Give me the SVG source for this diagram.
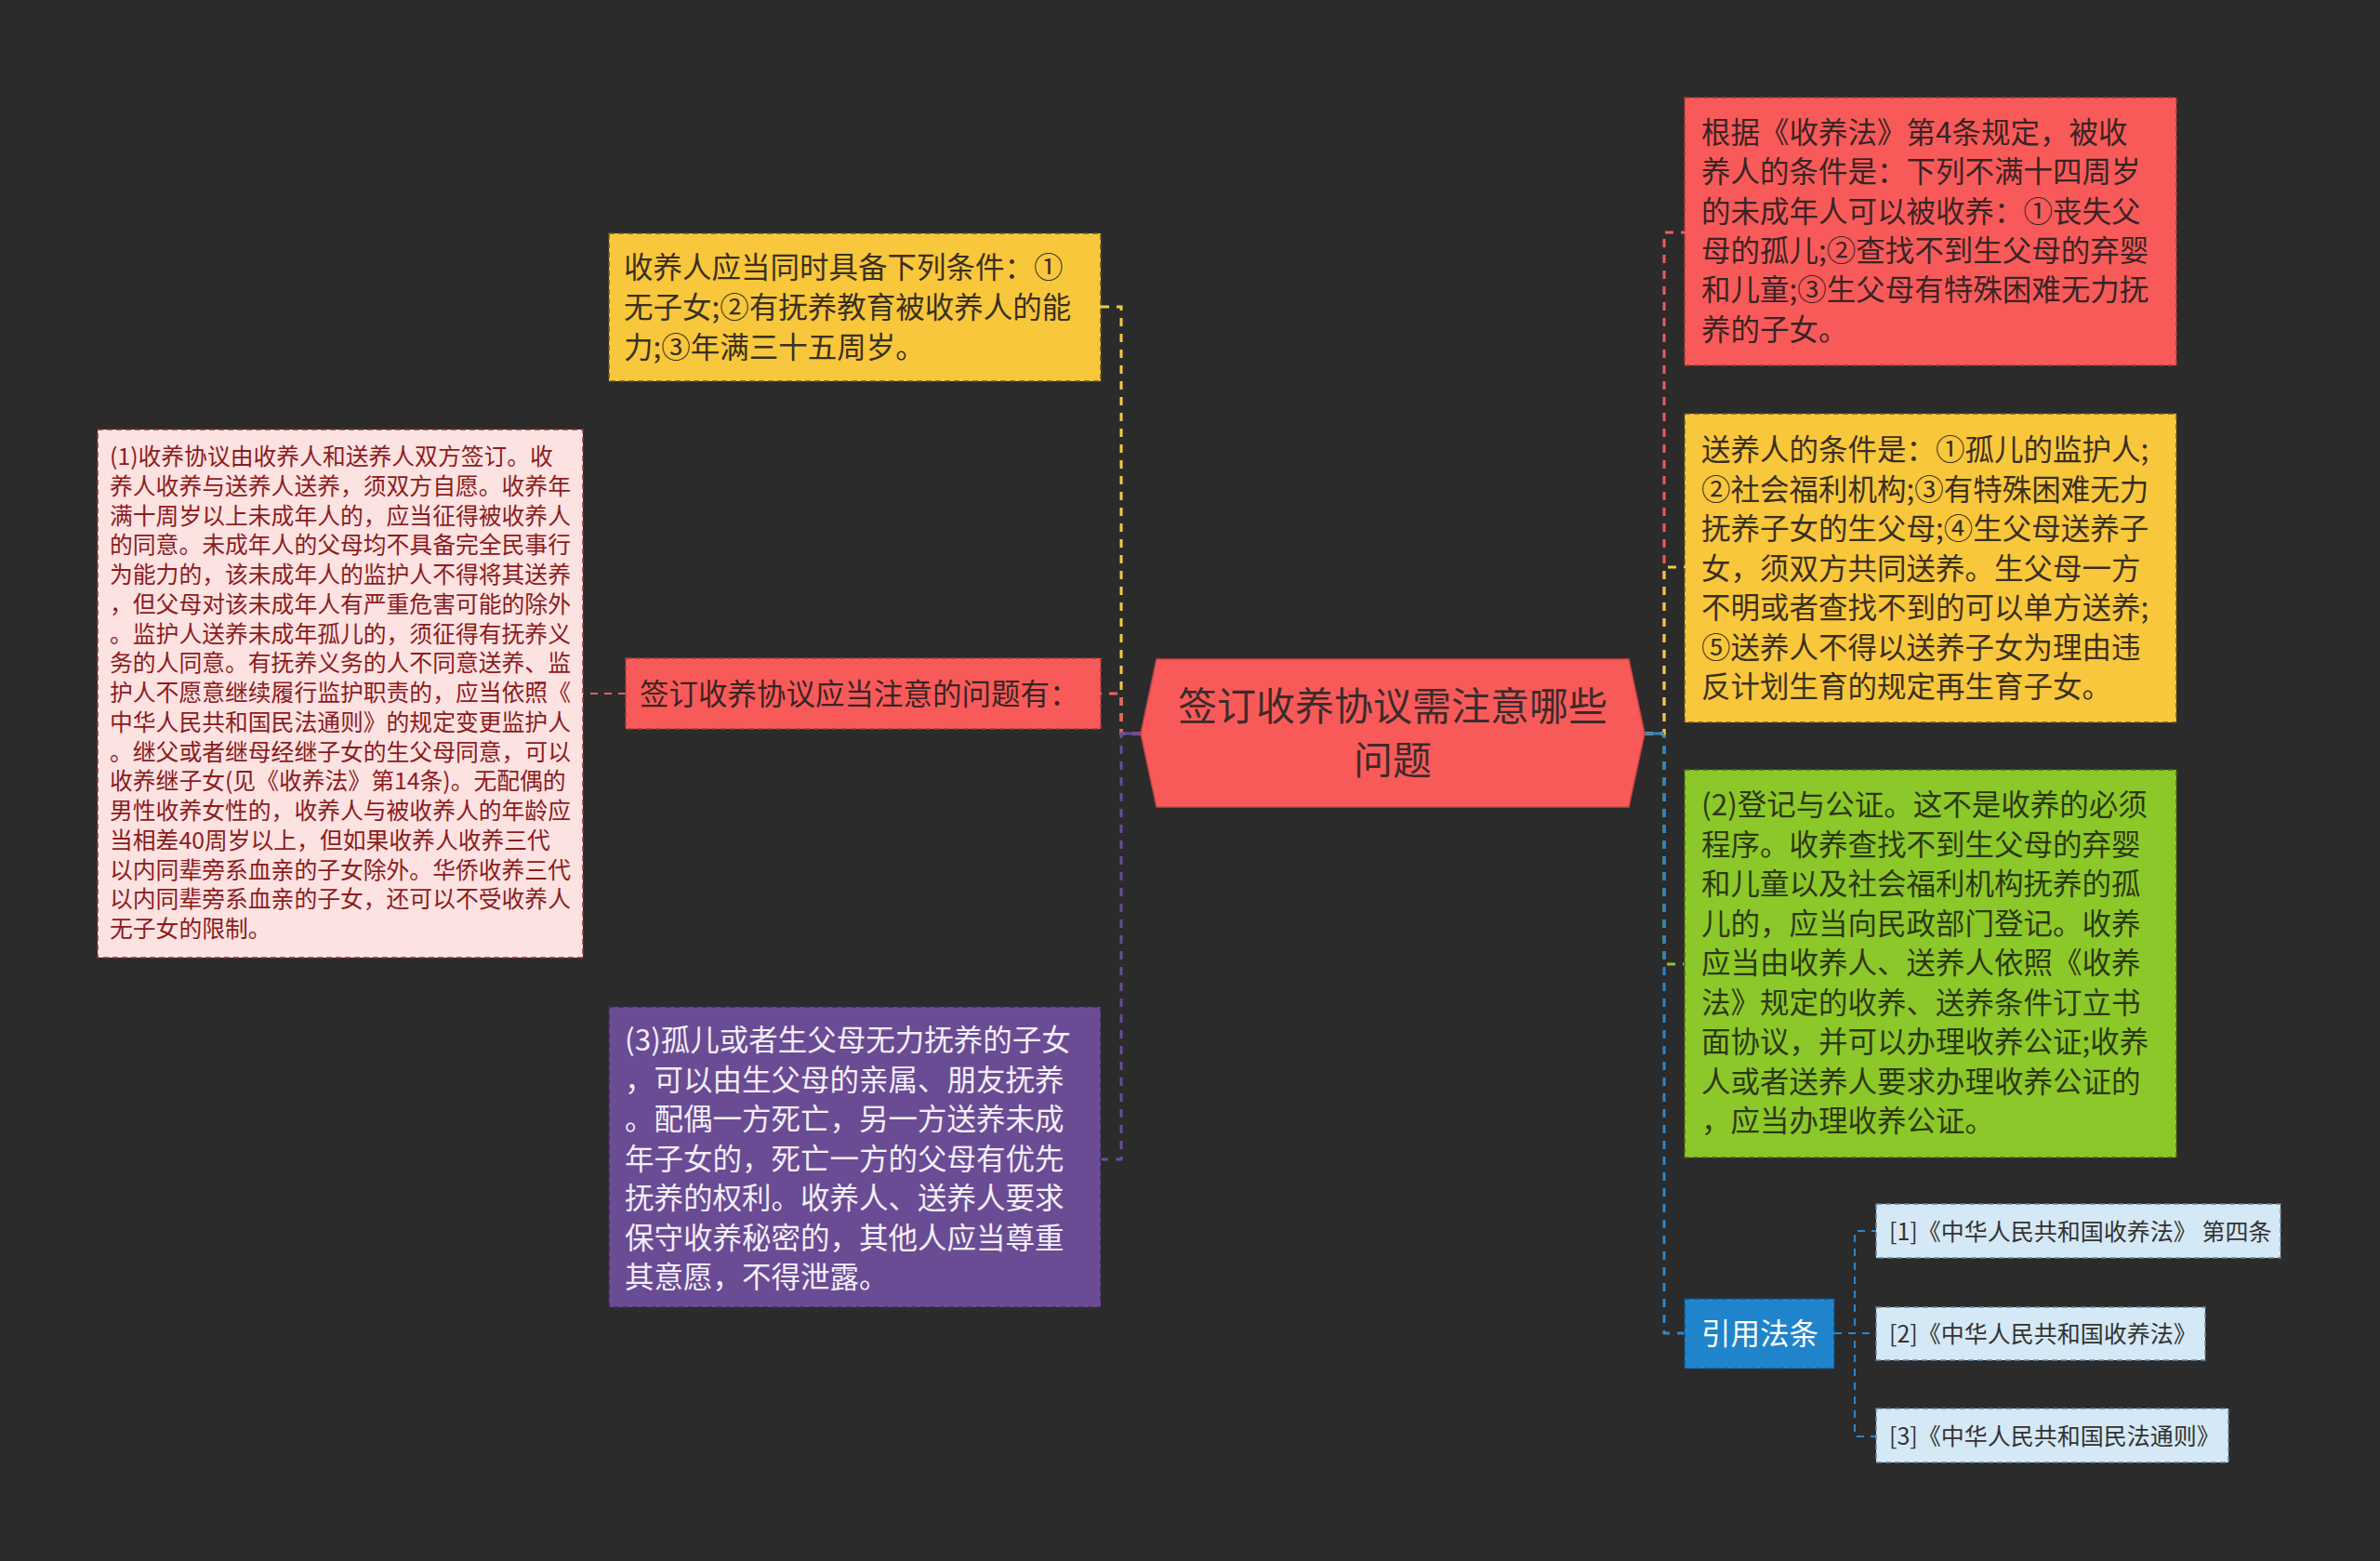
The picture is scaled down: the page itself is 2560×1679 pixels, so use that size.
<svg xmlns="http://www.w3.org/2000/svg" width="2560" height="1679" viewBox="0 0 2560 1679">
<style>
.f{font-family:"Noto Sans CJK SC","Noto Sans",sans-serif}
.l1{font-size:31.5px}
.sm{font-size:24.8px}
.ref{font-size:25px}
.cen{font-size:42px}
.c{fill:none;stroke-width:3;stroke-dasharray:9 8}
.cr{fill:none;stroke-width:2;stroke-dasharray:8 7}
.box{stroke-width:1.5;stroke-dasharray:6 4}
</style>
<rect x="0" y="0" width="2560" height="1679" fill="#2b2b2b"/>
<g id="connectors">
<path class="c" d="M1227,789 H1206 V330 H1184" stroke="#f2cb45"/>
<path class="c" d="M1227,789 H1206 V746 H1184" stroke="#f0605c"/>
<path class="cr" d="M673,746 H627" stroke="#e06262"/>
<path class="c" d="M1227,789 H1206 V1247 H1184" stroke="#6a4c98"/>
<line x1="1206" y1="789" x2="1227" y2="789" stroke="#6a4c98" stroke-width="3"/>
<path class="c" d="M1769,789 H1790 V1037 H1812" stroke="#8cc82a"/>
<path class="c" d="M1769,789 H1790 V1434 H1812" stroke="#2e86c8"/>
<path class="c" d="M1769,789 H1790 V250 H1812" stroke="#f25a5a"/>
<path class="c" d="M1769,789 H1790 V610 H1812" stroke="#f2c740"/>
<line x1="1769" y1="789" x2="1790" y2="789" stroke="#2e86c8" stroke-width="3"/>
<path class="cr" d="M1973,1434 H1995 V1324 H2018" stroke="#2e86c8"/>
<path class="cr" d="M1973,1434 H2018" stroke="#2e86c8"/>
<path class="cr" d="M1973,1434 H1995 V1545 H2018" stroke="#2e86c8"/>
</g>
<g id="center">
<polygon points="1244,709 1752,709 1769,789 1752,868 1244,868 1227,789" fill="#f85a5a" stroke="#c94545" stroke-width="1.5"/>
<text class="f cen" fill="#3d2b2b" text-anchor="middle"><tspan x="1498" y="775">签订收养协议需注意哪些</tspan><tspan x="1498" y="833">问题</tspan></text>
</g>
<g id="n-shouyangren">
<rect class="box" x="655" y="251" width="529" height="159" fill="#f9c73c" stroke="#6b5520"/>
<text class="f l1" fill="#3a3020"><tspan x="671" y="299">收养人应当同时具备下列条件：①</tspan><tspan x="671" y="342">无子女;②有抚养教育被收养人的能</tspan><tspan x="671" y="385">力;③年满三十五周岁。</tspan></text>
</g>
<g id="n-wenti">
<rect class="box" x="673" y="708" width="511" height="76" fill="#f85a5a" stroke="#a83a3a"/>
<text class="f l1" fill="#3a2424" x="688" y="758">签订收养协议应当注意的问题有：</text>
</g>
<g id="n-detail1">
<rect class="box" x="105" y="462" width="522" height="568" fill="#fde2e2" stroke="#9a3030"/>
<text class="f sm" fill="#8b1c1c"><tspan x="118" y="500">(1)收养协议由收养人和送养人双方签订。收</tspan><tspan x="118" dy="31.75">养人收养与送养人送养，须双方自愿。收养年</tspan><tspan x="118" dy="31.75">满十周岁以上未成年人的，应当征得被收养人</tspan><tspan x="118" dy="31.75">的同意。未成年人的父母均不具备完全民事行</tspan><tspan x="118" dy="31.75">为能力的，该未成年人的监护人不得将其送养</tspan><tspan x="118" dy="31.75">，但父母对该未成年人有严重危害可能的除外</tspan><tspan x="118" dy="31.75">。监护人送养未成年孤儿的，须征得有抚养义</tspan><tspan x="118" dy="31.75">务的人同意。有抚养义务的人不同意送养、监</tspan><tspan x="118" dy="31.75">护人不愿意继续履行监护职责的，应当依照《</tspan><tspan x="118" dy="31.75">中华人民共和国民法通则》的规定变更监护人</tspan><tspan x="118" dy="31.75">。继父或者继母经继子女的生父母同意，可以</tspan><tspan x="118" dy="31.75">收养继子女(见《收养法》第14条)。无配偶的</tspan><tspan x="118" dy="31.75">男性收养女性的，收养人与被收养人的年龄应</tspan><tspan x="118" dy="31.75">当相差40周岁以上，但如果收养人收养三代</tspan><tspan x="118" dy="31.75">以内同辈旁系血亲的子女除外。华侨收养三代</tspan><tspan x="118" dy="31.75">以内同辈旁系血亲的子女，还可以不受收养人</tspan><tspan x="118" dy="31.75">无子女的限制。</tspan></text>
</g>
<g id="n-detail3">
<rect class="box" x="655" y="1083" width="529" height="323" fill="#6a4c94" stroke="#3d2a5e"/>
<text class="f l1" fill="#f3eef8"><tspan x="672" y="1130">(3)孤儿或者生父母无力抚养的子女</tspan><tspan x="672" dy="42.5">，可以由生父母的亲属、朋友抚养</tspan><tspan x="672" dy="42.5">。配偶一方死亡，另一方送养未成</tspan><tspan x="672" dy="42.5">年子女的，死亡一方的父母有优先</tspan><tspan x="672" dy="42.5">抚养的权利。收养人、送养人要求</tspan><tspan x="672" dy="42.5">保守收养秘密的，其他人应当尊重</tspan><tspan x="672" dy="42.5">其意愿，不得泄露。</tspan></text>
</g>
<g id="n-beishouyang">
<rect class="box" x="1812" y="105" width="529" height="288" fill="#f85a5a" stroke="#a83a3a"/>
<text class="f l1" fill="#3a2424"><tspan x="1830" y="154">根据《收养法》第4条规定，被收</tspan><tspan x="1830" dy="42.3">养人的条件是：下列不满十四周岁</tspan><tspan x="1830" dy="42.3">的未成年人可以被收养：①丧失父</tspan><tspan x="1830" dy="42.3">母的孤儿;②查找不到生父母的弃婴</tspan><tspan x="1830" dy="42.3">和儿童;③生父母有特殊困难无力抚</tspan><tspan x="1830" dy="42.3">养的子女。</tspan></text>
</g>
<g id="n-songyang">
<rect class="box" x="1812" y="445" width="529" height="332" fill="#f9c73c" stroke="#6b5520"/>
<text class="f l1" fill="#3a3020"><tspan x="1830" y="495">送养人的条件是：①孤儿的监护人;</tspan><tspan x="1830" dy="42.5">②社会福利机构;③有特殊困难无力</tspan><tspan x="1830" dy="42.5">抚养子女的生父母;④生父母送养子</tspan><tspan x="1830" dy="42.5">女，须双方共同送养。生父母一方</tspan><tspan x="1830" dy="42.5">不明或者查找不到的可以单方送养;</tspan><tspan x="1830" dy="42.5">⑤送养人不得以送养子女为理由违</tspan><tspan x="1830" dy="42.5">反计划生育的规定再生育子女。</tspan></text>
</g>
<g id="n-detail2">
<rect class="box" x="1812" y="828" width="529" height="417" fill="#8cc82a" stroke="#4a6a15"/>
<text class="f l1" fill="#2c3812"><tspan x="1830" y="877">(2)登记与公证。这不是收养的必须</tspan><tspan x="1830" dy="42.5">程序。收养查找不到生父母的弃婴</tspan><tspan x="1830" dy="42.5">和儿童以及社会福利机构抚养的孤</tspan><tspan x="1830" dy="42.5">儿的，应当向民政部门登记。收养</tspan><tspan x="1830" dy="42.5">应当由收养人、送养人依照《收养</tspan><tspan x="1830" dy="42.5">法》规定的收养、送养条件订立书</tspan><tspan x="1830" dy="42.5">面协议，并可以办理收养公证;收养</tspan><tspan x="1830" dy="42.5">人或者送养人要求办理收养公证的</tspan><tspan x="1830" dy="42.5">，应当办理收养公证。</tspan></text>
</g>
<g id="n-yinyong">
<rect class="box" x="1812" y="1397" width="161" height="75" fill="#1f84cc" stroke="#0f4f80"/>
<text class="f l1" fill="#ffffff" x="1830" y="1446">引用法条</text>
</g>
<g id="n-ref1">
<rect class="box" x="2018" y="1295" width="435" height="58" fill="#d5e8f5" stroke="#6a8499"/>
<text class="f ref" fill="#333333" x="2032" y="1334">[1]《中华人民共和国收养法》 第四条</text>
</g>
<g id="n-ref2">
<rect class="box" x="2018" y="1406" width="354" height="57" fill="#d5e8f5" stroke="#6a8499"/>
<text class="f ref" fill="#333333" x="2032" y="1444">[2]《中华人民共和国收养法》</text>
</g>
<g id="n-ref3">
<rect class="box" x="2018" y="1515" width="379" height="58" fill="#d5e8f5" stroke="#6a8499"/>
<text class="f ref" fill="#333333" x="2032" y="1554">[3]《中华人民共和国民法通则》</text>
</g>
</svg>
